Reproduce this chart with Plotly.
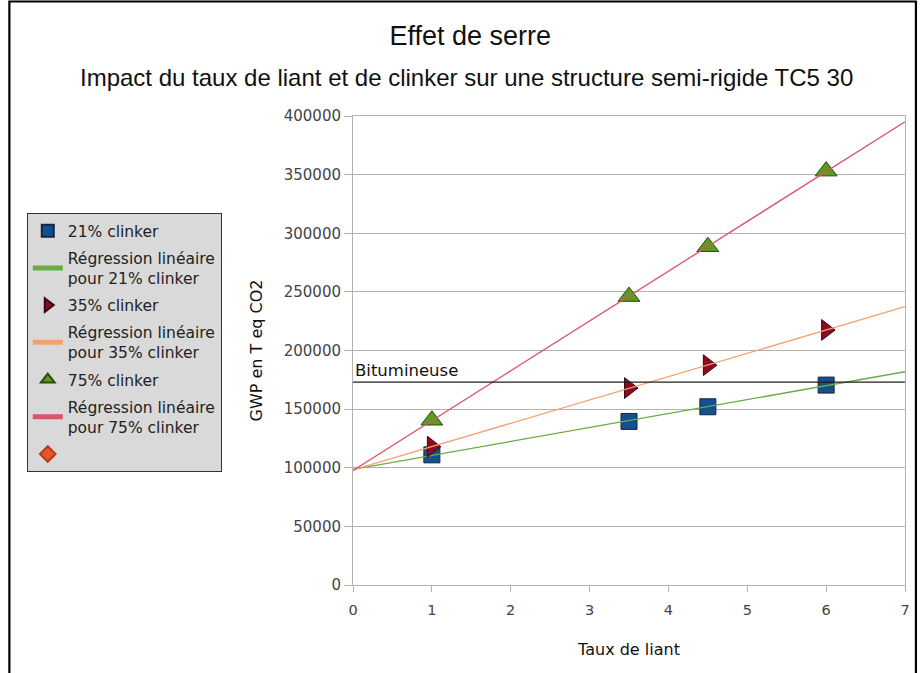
import numpy as np
import plotly.graph_objects as go

# Taux de liant (x) and GWP values (T eq CO2) per clinker content
taux_liant = [1, 3.5, 4.5, 6]
gwp_21 = [111000, 139500, 152000, 170500]
gwp_35 = [118000, 168000, 187500, 217500]
gwp_75 = [140500, 246000, 288500, 353000]
bitumineuse = 173000  # reference level of the bituminous structure

x_range = [0, 7]
y_ticks = [0, 50000, 100000, 150000, 200000, 250000, 300000, 350000, 400000]

ARIAL = "Liberation Sans, Arial, sans-serif"
WIDE = "DejaVu Sans, Verdana, sans-serif"


def fit_line(xs, ys):
    slope, intercept = np.polyfit(xs, ys, 1)
    xx = np.array(x_range, dtype=float)
    return xx, slope * xx + intercept


series = [
    ("21% clinker", gwp_21, "square", "#12508f", "#1b2540", 16, "#6aab45"),
    ("35% clinker", gwp_35, "triangle-right", "#8a0c22", "#3a0810", 18, "#f5a070"),
    ("75% clinker", gwp_75, "triangle-up", "#5c9c1c", "#2e4a12", 19, "#dc5268"),
]

fig = go.Figure()
for i, (name, ys, symbol, fill, edge, size, line_color) in enumerate(series):
    fig.add_trace(go.Scatter(
        x=taux_liant, y=ys, mode="markers", name=name,
        legendgroup=f"m{i}",
        marker=dict(symbol=symbol, size=size, color=fill,
                    line=dict(color=edge, width=1)),
    ))
    fx, fy = fit_line(taux_liant, ys)
    fig.add_trace(go.Scatter(
        x=fx, y=fy, mode="lines", legendgroup=f"r{i}",
        name="Régression linéaire<br>pour " + name,
        line=dict(color=line_color, width=1.3),
    ))

# empty series kept in the legend (diamond symbol, no label)
fig.add_trace(go.Scatter(
    x=[None], y=[None], mode="markers", name=" ", legendgroup="empty",
    marker=dict(symbol="diamond", size=10, color="#e8552d",
                line=dict(color="#b33a1a", width=0.5)),
))

fig.add_shape(type="line", xref="x domain", yref="y", x0=0, x1=1,
              y0=bitumineuse, y1=bitumineuse,
              line=dict(color="#1e1e1e", width=1.3))
fig.add_annotation(text="Bitumineuse", xref="x", yref="y", x=0, y=bitumineuse,
                   xanchor="left", yanchor="bottom", showarrow=False,
                   xshift=0, yshift=0,
                   font=dict(family=WIDE, size=16.5, color="#111"))

# outer frame
fig.add_shape(type="rect", xref="paper", yref="paper",
              x0=-0.6225, x1=1.0198, y0=-0.25, y1=1.2441,
              line=dict(color="black", width=2.2), layer="above")

fig.update_layout(
    width=922, height=673,
    margin=dict(l=353, r=14, t=116, b=88),
    paper_bgcolor="white", plot_bgcolor="white",
    title=dict(text="Effet de serre", x=0.51, xanchor="center",
               y=1 - 36 / 673, yanchor="middle", yref="container",
               font=dict(family=ARIAL, size=27, color="#111")),
    showlegend=True,
    legend=dict(x=-0.591, y=0.793, xanchor="left", yanchor="top",
                bgcolor="#d9d9d9", bordercolor="#333", borderwidth=1,
                font=dict(family=WIDE, size=15.5, color="#222"),
                itemsizing="constant", itemwidth=30,
                traceorder="grouped", tracegroupgap=4),
    xaxis=dict(range=x_range, dtick=1, showgrid=False, zeroline=False,
               showline=True, linecolor="#b3b3b3", linewidth=1, mirror=True,
               ticks="outside", ticklen=6, tickcolor="#b3b3b3",
               ticklabelstandoff=6,
               tickfont=dict(family=WIDE, size=14.5, color="#444"),
               title=dict(text="Taux de liant", standoff=26,
                          font=dict(family=WIDE, size=16, color="#111"))),
    yaxis=dict(range=[0, 400000], tickvals=y_ticks, tickformat="d",
               showgrid=True,
               gridcolor="#b3b3b3", gridwidth=1, zeroline=False,
               showline=True, linecolor="#b3b3b3", linewidth=1, mirror=True,
               ticks="outside", ticklen=8, tickcolor="#b3b3b3",
               tickfont=dict(family=WIDE, size=15, color="#444"),
               title=dict(text="GWP en T eq CO2", standoff=17,
                          font=dict(family=WIDE, size=16, color="#111"))),
)

fig.add_annotation(text="Impact du taux de liant et de clinker sur une structure semi-rigide TC5 30",
                   xref="paper", yref="paper", x=(467 - 353) / 555,
                   y=(585 - 78) / 469, xanchor="center", yanchor="middle",
                   showarrow=False,
                   font=dict(family=ARIAL, size=24, color="#111"))

fig.write_html("out.html")
